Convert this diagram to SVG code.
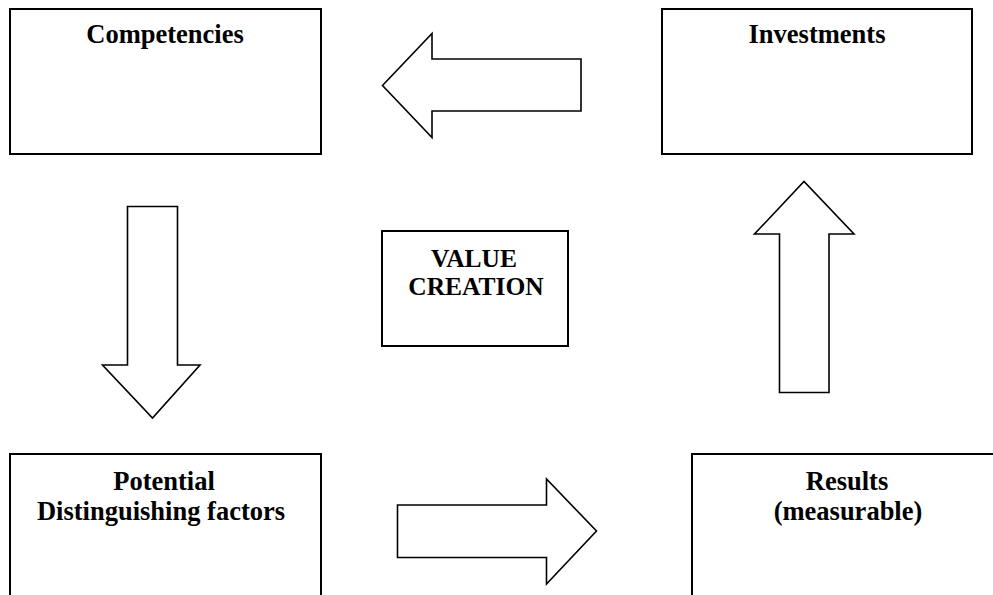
<svg xmlns="http://www.w3.org/2000/svg" width="993" height="595" viewBox="0 0 993 595">
<style>
.box{fill:#fff;stroke:#000;stroke-width:2}
.arr{fill:#fff;stroke:#000;stroke-width:1.6;stroke-linejoin:miter}
.t{font-family:"Liberation Serif","Times New Roman",serif;font-weight:bold;font-size:26.5px;text-anchor:middle;fill:#000}
.s{font-size:25.5px}
</style>
<rect width="993" height="595" fill="#fff"/>
<g id="competencies">
<rect class="box" x="10" y="9" width="311" height="145"/>
<text class="t" x="165" y="43">Competencies</text>
</g>
<g id="investments">
<rect class="box" x="662" y="9" width="310" height="145"/>
<text class="t" x="817" y="43">Investments</text>
</g>
<g id="value-creation">
<rect class="box" x="382" y="231" width="186" height="115"/>
<text class="t s" x="474" y="267">VALUE</text>
<text class="t s" x="476" y="295">CREATION</text>
</g>
<g id="potential">
<rect class="box" x="10" y="454" width="311" height="150"/>
<text class="t" x="164" y="490">Potential</text>
<text class="t" x="161" y="520">Distinguishing factors</text>
</g>
<g id="results">
<rect class="box" x="692" y="454" width="320" height="150"/>
<text class="t" x="847" y="490">Results</text>
<text class="t" x="848" y="520">(measurable)</text>
</g>
<g id="connectors">
<polygon class="arr" points="581,59 432,59 432,33.5 382.5,85.5 432,137.5 432,111 581,111"/>
<polygon class="arr" points="127.5,206.5 177.5,206.5 177.5,365 200,365 152.5,418 102.5,365 127.5,365"/>
<polygon class="arr" points="397.5,505 546.5,505 546.5,479 596.5,531 546.5,584 546.5,557.5 397.5,557.5"/>
<polygon class="arr" points="779.5,392.5 829,392.5 829,234 854,234 804,181.5 754.5,234 779.5,234"/>
</g>
</svg>
